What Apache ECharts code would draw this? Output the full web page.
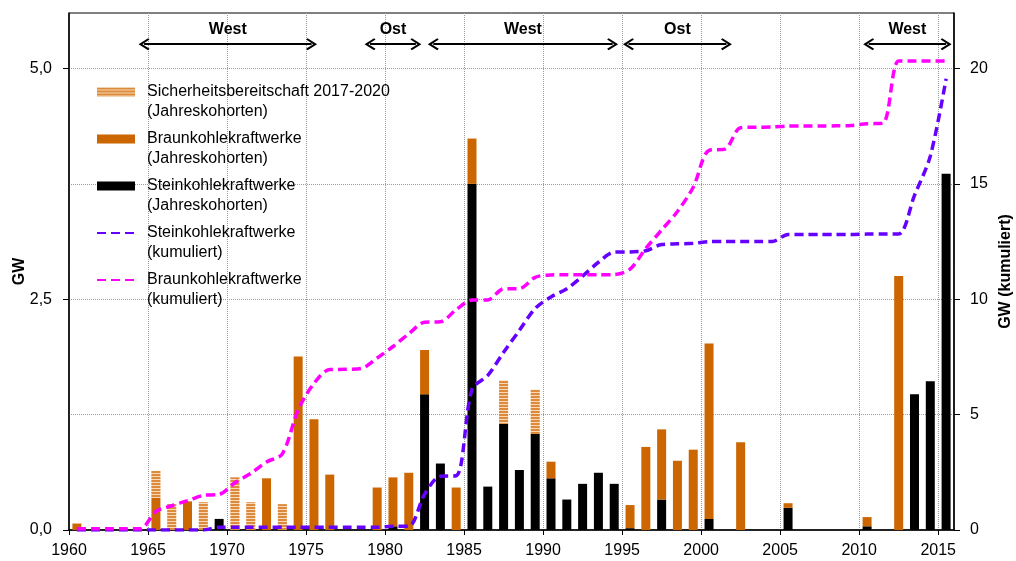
<!DOCTYPE html>
<html><head><meta charset="utf-8">
<script src="https://cdn.jsdelivr.net/npm/echarts@6/dist/echarts.min.js"></script>
<style>html,body{margin:0;padding:0;background:#fff}#c{width:1016px;height:561px}</style>
</head><body><div id="c"></div>
<script>
const years = [1960,1961,1962,1963,1964,1965,1966,1967,1968,1969,
  1970,1971,1972,1973,1974,1975,1976,1977,1978,1979,
  1980,1981,1982,1983,1984,1985,1986,1987,1988,1989,
  1990,1991,1992,1993,1994,1995,1996,1997,1998,1999,
  2000,2001,2002,2003,2004,2005,2006,2007,2008,2009,
  2010,2011,2012,2013,2014,2015];
// Steinkohlekraftwerke (Jahreskohorten), GW
const steinkohle = [0,0,0,0,0,0,0,0,0,0.12,
  0,0,0,0,0,0,0,0,0,0,
  0.04,0,1.47,0.72,0,3.75,0.47,1.15,0.65,1.04,
  0.56,0.33,0.50,0.62,0.50,0.02,0,0.33,0,0,
  0.12,0,0,0,0,0.24,0,0,0,0,
  0.04,0,0,1.47,1.61,3.86];
// Braunkohlekraftwerke (Jahreskohorten), GW
const braunkohle = [0.07,0,0,0,0,0.35,0,0.31,0,0,
  0,0,0.56,0,1.88,1.20,0.60,0,0,0.46,
  0.53,0.62,0.48,0,0.46,0.49,0,0,0,0,
  0.18,0,0,0,0,0.25,0.90,0.76,0.75,0.87,
  1.90,0,0.95,0,0,0.05,0,0,0,0,
  0.10,0,2.75,0,0,0];
// Sicherheitsbereitschaft 2017-2020 (Jahreskohorten), GW
const sicherheit = [0,0,0,0,0,0.29,0.28,0,0.30,0,
  0.57,0.30,0,0.28,0,0,0,0,0,0,
  0,0,0,0,0,0,0,0.47,0,0.48,
  0,0,0,0,0,0,0,0,0,0,
  0,0,0,0,0,0,0,0,0,0,
  0,0,0,0,0,0];
// Steinkohlekraftwerke (kumuliert), GW
const steinKum = [0,0,0,0,0,0,0,0,0,0.12,
  0.12,0.12,0.12,0.12,0.12,0.12,0.12,0.12,0.12,0.12,
  0.16,0.16,1.55,2.33,2.35,6.1,6.7,7.7,8.65,9.6,
  10.1,10.45,11.0,11.6,12.04,12.05,12.1,12.37,12.4,12.42,
  12.49,12.5,12.5,12.5,12.5,12.8,12.8,12.8,12.8,12.8,
  12.82,12.82,12.82,14.5,16.2,19.55];
// Braunkohlekraftwerke (kumuliert), GW
const braunKum = [0.05,0.05,0.05,0.05,0.05,0.8,1.05,1.27,1.5,1.54,
  2.05,2.45,2.95,3.3,5.2,6.35,6.95,6.96,7.0,7.45,
  7.95,8.5,9.0,9.02,9.55,9.96,9.97,10.45,10.46,10.95,
  11.05,11.06,11.06,11.06,11.07,11.3,12.2,13.0,13.8,14.85,
  16.45,16.5,17.43,17.45,17.46,17.5,17.5,17.5,17.51,17.53,
  17.6,17.62,20.32,20.32,20.32,20.32];
const xTickYears = [1960,1965,1970,1975,1980,1985,1990,1995,2000,2005,2010,2015];
const leftTicks = [0, 2.5, 5];
const rightTicks = [0, 5, 10, 15, 20];
const regionNames = ['West','Ost','West','Ost','West'];
const regionFrom = [1964.75, 1979.05, 1983.05, 1995.4, 2010.6];
const regionTo = [1975.35, 1981.95, 1994.4, 2001.6, 2015.5];
const regionLevel = 21.05;

const names = [
  'Sicherheitsbereitschaft 2017-2020\n(Jahreskohorten)',
  'Braunkohlekraftwerke\n(Jahreskohorten)',
  'Steinkohlekraftwerke\n(Jahreskohorten)',
  'Steinkohlekraftwerke\n(kumuliert)',
  'Braunkohlekraftwerke\n(kumuliert)'
];
const FONT = 'Liberation Sans, Arial, sans-serif';
const pair = arr => years.map((y, i) => [y + 0.5, arr[i]]);
const chevron = 'path://M6,0 L12,9 L10.6,10.4 L6,3.6 L1.4,10.4 L0,9 Z';
const dotted = {color: '#9a9a9a', type: 'dotted', width: 1};
const noSym = {color: 'rgba(0,0,0,0)', borderWidth: 0, borderColor: 'rgba(0,0,0,0)'};

const chart = echarts.init(document.getElementById('c'), null, {renderer: 'canvas'});
chart.setOption({
  animation: false,
  textStyle: {fontFamily: FONT},
  grid: {left: 69, right: 62, top: 13, bottom: 31, show: true, borderColor: '#000', borderWidth: 1,
    containLabel: false, outerBoundsMode: 'none'},
  legend: {
    orient: 'vertical', left: 96, top: 62, padding: 0,
    itemWidth: 38, itemHeight: 9, itemGap: -13, selectedMode: false,
    formatter: n => '\n' + n,
    textStyle: {fontSize: 16, lineHeight: 20, color: '#000', fontFamily: FONT, padding: [0, 0, 0, 7]},
    data: [
      {name: names[0], icon: 'rect'},
      {name: names[1], icon: 'rect'},
      {name: names[2], icon: 'rect'},
      {name: names[3], itemStyle: noSym},
      {name: names[4], itemStyle: noSym}
    ]
  },
  xAxis: [{
    type: 'value', min: 1960, max: 2016, interval: 5,
    axisLine: {show: true, lineStyle: {color: '#000', width: 1.5}},
    axisTick: {show: true, length: 5, lineStyle: {color: '#000'}, customValues: xTickYears},
    axisLabel: {fontSize: 16, color: '#000', margin: 13, customValues: xTickYears,
      formatter: v => String(v)},
    splitLine: {show: true, lineStyle: dotted}
  }, {
    type: 'category', data: years, boundaryGap: true, show: false
  }],
  yAxis: [{
    type: 'value', min: 0, max: 5.6, interval: 2.5, position: 'left',
    name: 'GW', nameLocation: 'middle', nameGap: 41, nameMoveOverlap: false,
    nameTextStyle: {fontSize: 16, fontWeight: 'bold', color: '#000'},
    axisLine: {show: true, lineStyle: {color: '#000', width: 1.5}},
    axisTick: {show: true, length: 6, lineStyle: {color: '#000'}, customValues: leftTicks},
    axisLabel: {fontSize: 16, color: '#000', margin: 17, customValues: leftTicks,
      formatter: v => v.toFixed(1).replace('.', ',')},
    splitLine: {show: true, lineStyle: dotted},
    minorTick: {show: false, splitNumber: 2},
    minorSplitLine: {show: true, lineStyle: dotted}
  }, {
    type: 'value', min: 0, max: 22.4, interval: 5, position: 'right',
    name: 'GW (kumuliert)', nameLocation: 'middle', nameGap: 44, nameMoveOverlap: false,
    nameTextStyle: {fontSize: 16, fontWeight: 'bold', color: '#000'},
    axisLine: {show: true, lineStyle: {color: '#000', width: 1.5}},
    axisTick: {show: true, length: 6, lineStyle: {color: '#000'}, customValues: rightTicks},
    axisLabel: {fontSize: 16, color: '#000', margin: 16, customValues: rightTicks,
      formatter: v => String(v)},
    splitLine: {show: false}
  }],
  series: [
    {name: names[2], type: 'bar', xAxisIndex: 1, stack: 'k', barWidth: 9, data: steinkohle,
      itemStyle: {color: '#000000'}},
    {name: names[1], type: 'bar', xAxisIndex: 1, stack: 'k', barWidth: 9, data: braunkohle,
      itemStyle: {color: '#CC6600'}},
    {name: names[0], type: 'bar', xAxisIndex: 1, stack: 'k', barWidth: 9, data: sicherheit,
      itemStyle: {color: '#F8D8B6',
        decal: {symbol: 'rect', symbolSize: 1, dashArrayX: [1, 0], dashArrayY: [2, 1], rotation: 0, color: '#DC8A3C'}}},
    {name: names[3], type: 'line', xAxisIndex: 0, yAxisIndex: 1, data: pair(steinKum), smooth: 0.3,
      symbol: 'none', showSymbol: false, z: 5,
      itemStyle: {color: '#6600FF'},
      lineStyle: {color: '#6600FF', width: 3.5, type: [9, 5]}},
    {name: names[4], type: 'line', xAxisIndex: 0, yAxisIndex: 1, data: pair(braunKum), smooth: 0.3,
      symbol: 'none', showSymbol: false, z: 6,
      itemStyle: {color: '#FF00FF'},
      lineStyle: {color: '#FF00FF', width: 3.5, type: [9, 5]},
      markLine: {
        silent: true, symbol: [chevron, chevron], symbolSize: [12, 11],
        lineStyle: {color: '#000', width: 2, type: 'solid'},
        label: {show: true, position: 'insideMiddleTop', distance: 7, formatter: '{b}',
          fontSize: 16, fontWeight: 'bold', color: '#000', fontFamily: FONT},
        emphasis: {disabled: true},
        data: regionNames.map((n, i) => [
          {name: n, coord: [regionFrom[i], regionLevel]},
          {coord: [regionTo[i], regionLevel]}
        ])
      }}
  ]
});
</script></body></html>
